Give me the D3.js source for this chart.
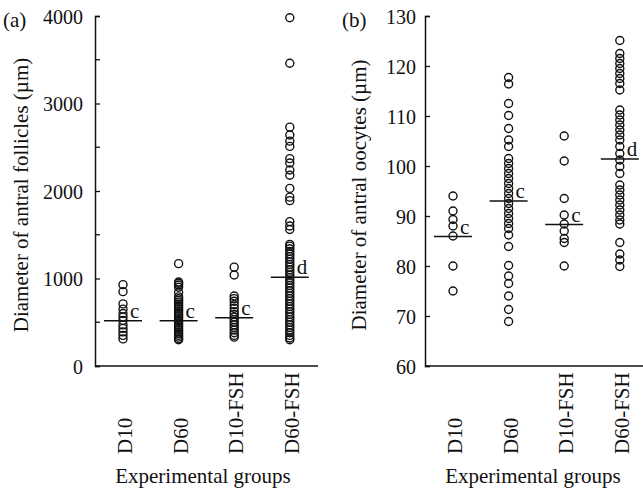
<!doctype html>
<html>
<head>
  <script src="https://cdnjs.cloudflare.com/ajax/libs/d3/7.8.5/d3.min.js" type="text/JavaScript"></script>
  <style>
    body { margin: 0; background: #fff; }
  </style>
</head>
<body>
<svg height="496" width="643"></svg>
<script type="text/javascript">
var groups = ["D10", "D60", "D10-FSH", "D60-FSH"];
var letters = ["c", "c", "c", "d"];

// (a) antral follicle diameters, um
var follD10 = [930, 850, 710, 650, 600, 560, 520, 470, 430, 390, 350, 310];
var follD60 = [1170, 960, 945, 925, 900, 840, 790, 770, 750, 730, 710, 690, 670, 650, 630, 610,
  590, 570, 550, 530, 510, 490, 470, 450, 430, 410, 390, 370, 350, 330, 310, 300];
var follD10FSH = [1130, 1040, 800, 770, 740, 700, 660, 620, 590, 560, 530, 500, 470, 440, 410,
  380, 350, 330];
var follD60FSH = [3980, 3460, 2730, 2640, 2570, 2510, 2370, 2320, 2240, 2180, 2030, 1930, 1890,
  1650, 1600, 1560, 1390, 1370, 1340, 1310, 1280, 1250, 1220, 1190, 1160, 1130, 1100, 1070,
  1040, 1010, 980, 950, 920, 890, 860, 830, 800, 770, 740, 710, 680, 650, 620, 590, 560, 530,
  500, 470, 440, 410, 380, 350, 320, 300];
var follMeans = [518, 518, 552, 1013];
var follTicks = [0, 1000, 2000, 3000, 4000];
var follMinor = [500, 1500, 2500, 3500];

// (b) antral oocyte diameters, um
var oocD10 = [94, 91, 89.3, 88, 86, 80, 75];
var oocD60 = [117.7, 116.4, 112.5, 110.1, 107.5, 105.2, 103.9, 101.5, 100.5, 99.5, 98.5, 97.5,
  96.5, 95.5, 94.5, 93.5, 92.5, 91.5, 90.5, 89.5, 88.5, 87.5, 86.2, 83.9, 80.1, 78, 76.5, 74,
  71.3, 68.9];
var oocD10FSH = [106, 101, 93.5, 90.2, 88.4, 87, 85.5, 84.7, 80];
var oocD60FSH = [125.1, 122.5, 121.5, 120.5, 119.5, 118.5, 117.5, 116.5, 115.2, 111.2, 110.2,
  109.2, 108.2, 107.2, 106.2, 105.2, 103.9, 102.5, 101.2, 99.9, 98.5, 96.2, 95.2, 94.2, 93.2,
  92.2, 91.2, 90.2, 89.2, 88.4, 84.7, 82.4, 81.2, 79.9];
var oocMeans = [85.9, 93.0, 88.3, 101.4];
var oocTicks = [60, 70, 80, 90, 100, 110, 120, 130];

var serif = "'Liberation Serif'";
var ink = "#111";
var svg = d3.select("svg");

drawPanel({
  x0: 95, label: "(a)", labelX: 3, pad: 12,
  title: "Diameter of antral follicles (\u00b5m)", titleX: 28,
  domain: [0, 4000], ticks: follTicks, minor: follMinor,
  series: [follD10, follD60, follD10FSH, follD60FSH], means: follMeans
});
drawPanel({
  x0: 425, label: "(b)", labelX: 342, pad: 9,
  title: "Diameter of antral oocytes (\u00b5m)", titleX: 366,
  domain: [60, 130], ticks: oocTicks, minor: [],
  series: [oocD10, oocD60, oocD10FSH, oocD60FSH], means: oocMeans
});

function addText(g, size) {
  return g.append("text")
    .attr("font-family", serif)
    .attr("font-size", size)
    .attr("fill", ink);
}

function drawPanel(p) {
  var top = 16, bottom = 366, len = 223;
  var x = d3.scalePoint().domain(groups).range([p.x0 + 28, p.x0 + 28 + 3 * 55.6]);
  var y = d3.scaleLinear().domain(p.domain).range([bottom, top]);
  var g = svg.append("g");

  // y axis, ticks pointing inward
  var yAxis = d3.axisLeft(y).tickValues(p.ticks).tickFormat(d3.format("d"))
    .tickSize(-5).tickPadding(p.pad);
  var ya = g.append("g").attr("transform", "translate(" + p.x0 + ",0)").call(yAxis);
  ya.attr("font-family", null).attr("font-size", null);
  ya.select(".domain").attr("stroke", ink).attr("stroke-width", 1.5);
  ya.selectAll(".tick line").attr("stroke", ink).attr("stroke-width", 1.3);
  ya.selectAll(".tick text")
    .attr("font-family", serif).attr("font-size", 20)
    .attr("fill", ink).attr("dy", "0.36em");
  g.selectAll("line.minor").data(p.minor).enter().append("line").attr("class", "minor")
    .attr("x1", p.x0).attr("x2", p.x0 + 5)
    .attr("y1", d => y(d)).attr("y2", d => y(d))
    .attr("stroke", ink).attr("stroke-width", 1.3);

  // x axis line, no ticks
  g.append("line")
    .attr("x1", p.x0).attr("x2", p.x0 + len)
    .attr("y1", bottom).attr("y2", bottom)
    .attr("stroke", ink).attr("stroke-width", 1.5);

  groups.forEach(d => {
    addText(g, 21)
      .attr("transform", "translate(" + (x(d) + 9) + ",454) rotate(-90)")
      .text(d);
  });

  addText(g, 21)
    .attr("x", p.x0 + 108).attr("y", 483)
    .attr("text-anchor", "middle")
    .text("Experimental groups");

  addText(g, 21)
    .attr("transform", "translate(" + p.titleX + "," + ((top + bottom) / 2 + 4) + ") rotate(-90)")
    .attr("text-anchor", "middle")
    .text(p.title);

  addText(g, 21)
    .attr("x", p.labelX).attr("y", 27)
    .text(p.label);

  // points
  p.series.forEach((vals, i) => {
    g.append("g").selectAll("circle").data(vals).enter().append("circle")
      .attr("cx", x(groups[i]))
      .attr("cy", d => y(d))
      .attr("r", 4)
      .attr("fill", "none")
      .attr("stroke", ink)
      .attr("stroke-width", 1.4);
  });

  // mean bars with letters
  p.means.forEach((m, i) => {
    g.append("line")
      .attr("x1", x(groups[i]) - 19).attr("x2", x(groups[i]) + 19)
      .attr("y1", y(m)).attr("y2", y(m))
      .attr("stroke", ink).attr("stroke-width", 1.5);
    addText(g, 21)
      .attr("x", x(groups[i]) + 7)
      .attr("y", y(m) - 3)
      .text(letters[i]);
  });
}
</script>
</body>
</html>
